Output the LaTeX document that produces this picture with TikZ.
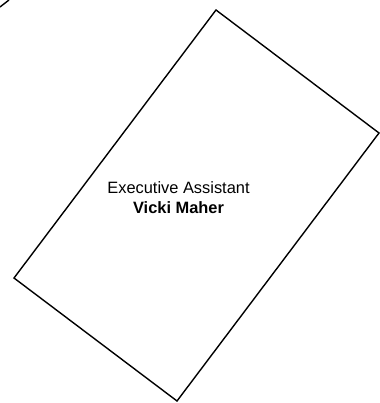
\documentclass[tikz,border=0pt]{standalone}
\usepackage{fontspec}
\setmainfont{Liberation Sans}
\begin{document}
\begin{tikzpicture}[x=1pt,y=-1pt,
  edge/.style={draw=black,line width=1.4pt,line join=miter},
  lbl/.style={align=center,font=\fontsize{16.4}{20.5}\selectfont,inner sep=0pt}]
\useasboundingbox (0,0) rectangle (379,403);
\coordinate (t) at (216,10);
\coordinate (r) at (379,133);
\coordinate (b) at (177,401);
\coordinate (l) at (14,278);
\draw[edge] (t) -- (r) -- (b) -- (l) -- cycle;
\coordinate (p1) at (0,7);
\coordinate (p2) at (9,0);
\draw[edge] (p1) -- (p2);
\node[lbl] (txt) at (178.5,197.5) {Executive Assistant\\\textbf{Vicki Maher}};
\end{tikzpicture}
\end{document}
